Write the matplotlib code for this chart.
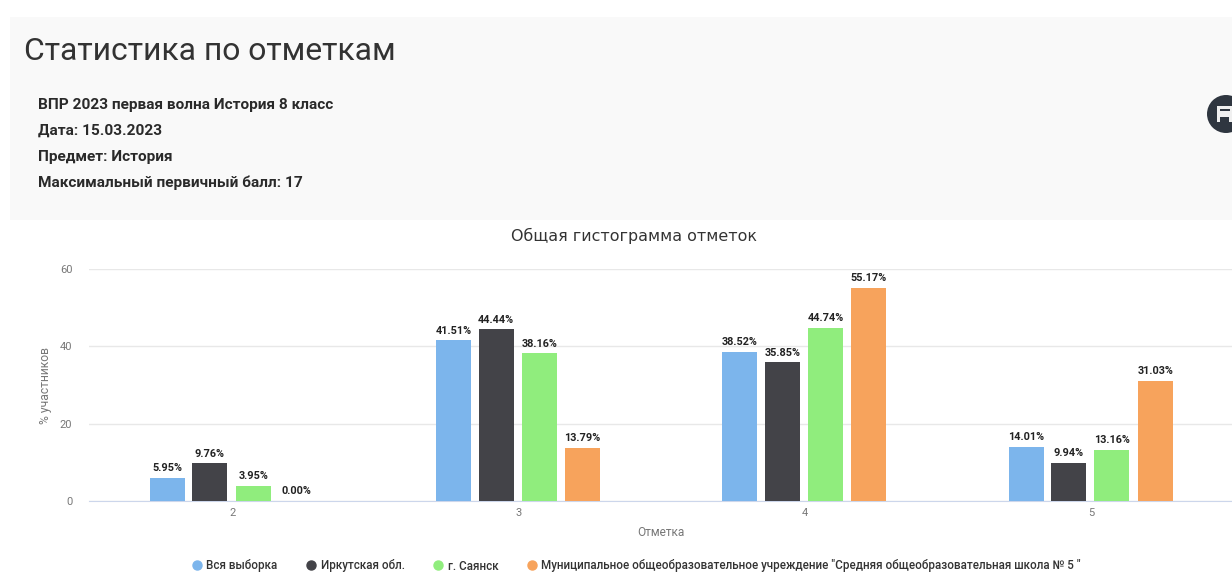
import matplotlib
matplotlib.use("Agg")
import matplotlib.pyplot as plt
from matplotlib.lines import Line2D
from matplotlib.patches import Circle, Rectangle
import numpy as np

W, H = 1232, 583

categories = ["2", "3", "4", "5"]
series_names = ["Вся выборка", "Иркутская обл.", "г. Саянск",
                'Муниципальное общеобразовательное учреждение "Средняя общеобразовательная школа № 5 "']
vsya = [5.95, 41.51, 38.52, 14.01]
irkutsk = [9.76, 44.44, 35.85, 9.94]
sayansk = [3.95, 38.16, 44.74, 13.16]
school = [0.00, 13.79, 55.17, 31.03]
y_ticks = [0, 20, 40, 60]
info_lines = ["ВПР 2023 первая волна История 8 класс", "Дата: 15.03.2023",
              "Предмет: История", "Максимальный первичный балл: 17"]

colors = ["#7cb5ec", "#434348", "#90ed7d", "#f7a35c"]

plt.rcParams["font.family"] = ["Roboto", "DejaVu Sans"]
fig = plt.figure(figsize=(W / 100, H / 100), dpi=100, facecolor="white")


def fx(px):
    return px / W


def fy(py):
    return 1 - py / H


# grey page header behind the title
fig.patches.append(Rectangle((fx(10), fy(220)), fx(W - 10), (220 - 17) / H, transform=fig.transFigure,
                             facecolor="#f9f9f9", edgecolor="none", zorder=-5))

fig.text(fx(24), fy(52), "Статистика по отметкам", fontsize=22.95, color="#333333", va="center")
for i, line in enumerate(info_lines):
    fig.text(fx(38), fy(105 + i * 26), line, fontsize=11.1, color="#2a2a2a", weight="bold", va="center")

# save button, cut by the right edge
fig.patches.append(Circle((1226, H - 114), 19, transform=None, facecolor="#2f3640", edgecolor="none"))
fig.patches.append(Rectangle((1217, H - 122), 16, 16, transform=None, facecolor="#f0f0f0", edgecolor="none"))
fig.patches.append(Rectangle((1220, H - 122), 9, 5, transform=None, facecolor="#2f3640", edgecolor="none"))
fig.patches.append(Rectangle((1220, H - 111), 10, 2, transform=None, facecolor="#2f3640", edgecolor="none"))

fig.text(fx(634), fy(236), "Общая гистограмма отметок", fontsize=11.4, color="#333333", ha="center", va="center",
         family="DejaVu Sans")

# axes run slightly past the right edge, like the screenshot
left, right, top, bottom = 89, 1234, 269, 501
ax = fig.add_axes([fx(left), fy(bottom), (right - left) / W, (bottom - top) / H], facecolor="none")

x = np.arange(len(categories))
bar_w = 0.122
offsets = [-0.2265, -0.0775, 0.0735, 0.2245]
for name, vals, col, off in zip(series_names, [vsya, irkutsk, sayansk, school], colors, offsets):
    ax.bar(x + off, vals, bar_w, color=col, label=name, zorder=3)
    for xi, v in zip(x, vals):
        ax.text(xi + off, v + 1.2, f"{v:.2f}%", ha="center", va="bottom", fontsize=7.8, weight="bold",
                color="#222222", zorder=4, clip_on=False)

ax.set_xlim(-0.5, 3.5)
ax.set_ylim(0, 60)
ax.set_yticks(y_ticks)
ax.set_xticks(x)
ax.set_xticklabels(categories)
ax.tick_params(axis="both", length=0, labelsize=8, labelcolor="#777777")
ax.tick_params(axis="x", pad=5)
ax.tick_params(axis="y", pad=12)
ax.grid(axis="y", color="#e8e8e8", linewidth=1, zorder=0)
for s in ["top", "right", "left"]:
    ax.spines[s].set_visible(False)
ax.spines["bottom"].set_color("#ccd6eb")

fig.text(fx(45), fy(385), "% участников", rotation=90, fontsize=8.7, color="#777777", ha="center", va="center")
fig.text(fx(661), fy(533), "Отметка", fontsize=8.6, color="#777777", ha="center", va="center")

handles = [Line2D([], [], linestyle="none", marker="o", markersize=6.5, color=c) for c in colors]
fig.legend(handles, series_names, loc="center", bbox_to_anchor=(fx(636), fy(566)), ncol=4, frameon=False,
           labelcolor="#333333", columnspacing=2.4, handletextpad=0.3, handlelength=1,
           prop={"family": "Roboto", "size": 8.4, "weight": "medium"})

fig.savefig("out.png", dpi=100)
